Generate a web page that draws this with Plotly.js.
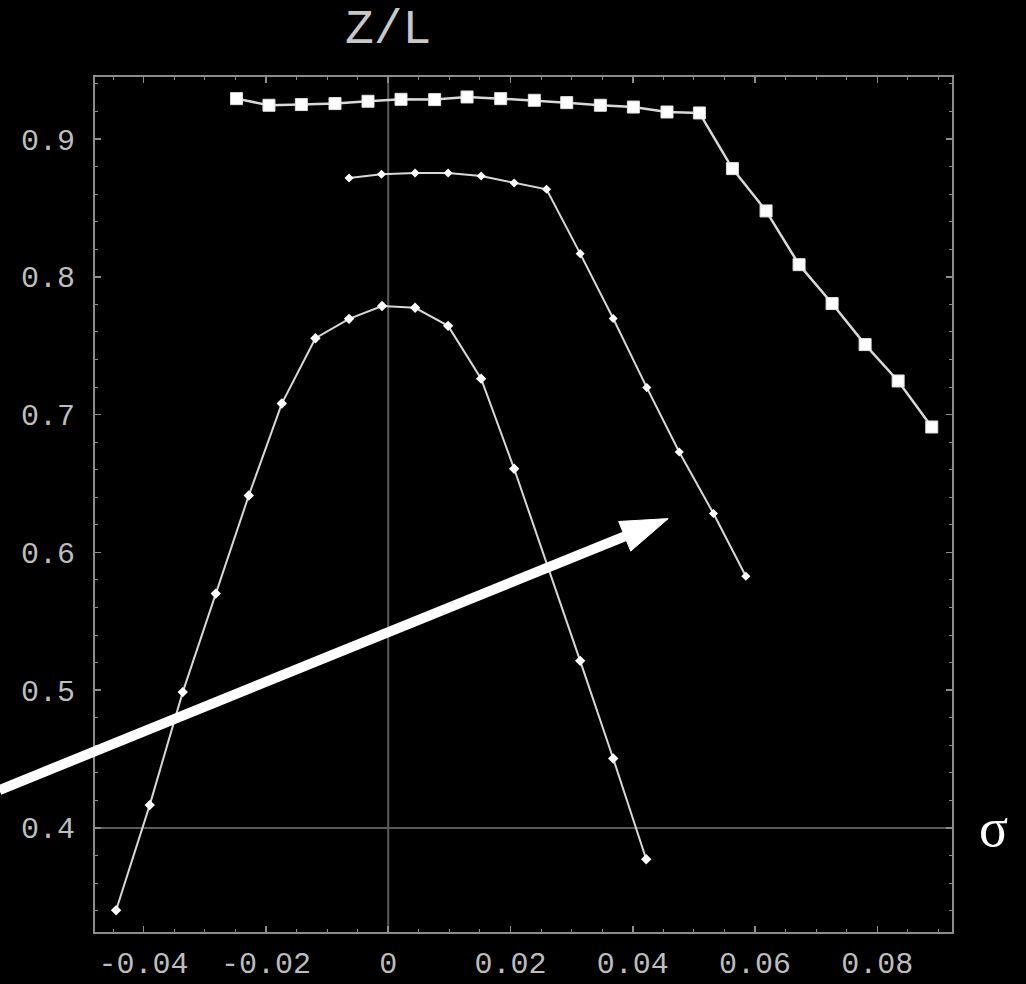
<!DOCTYPE html>
<html>
<head>
<meta charset="utf-8">
<script src="https://cdn.plot.ly/plotly-3.0.1.min.js"></script>
<style>html,body{margin:0;padding:0;background:#000;}</style>
</head>
<body>
<div id="chart" style="width:1026px;height:984px;"></div>
<script>
// ---- data ----
const squaresX = [-0.0248,-0.0195,-0.0142,-0.0087,-0.0033,0.0021,0.0076,0.0129,0.0184,0.0239,0.0292,0.0347,0.0401,0.0456,0.0509,0.0563,0.0618,0.0672,0.0726,0.0780,0.0834,0.0889];
const squaresY = [0.9293,0.9245,0.9250,0.9257,0.9274,0.9288,0.9286,0.9305,0.9293,0.9281,0.9264,0.9245,0.9232,0.9196,0.9189,0.8785,0.8478,0.8088,0.7806,0.7508,0.7244,0.6910];

const middleX = [-0.0064,-0.0011,0.0044,0.0098,0.0152,0.0206,0.0259,0.0314,0.0368,0.0423,0.0476,0.0532,0.0585];
const middleY = [0.8717,0.8744,0.8753,0.8753,0.8731,0.8681,0.8635,0.8168,0.7697,0.7196,0.6729,0.6282,0.5827];

const innerX = [-0.0445,-0.0390,-0.0336,-0.0282,-0.0228,-0.0174,-0.0119,-0.0064,-0.0010,0.0044,0.0098,0.0152,0.0206,0.0314,0.0368,0.0422];
const innerY = [0.3403,0.4166,0.4986,0.5701,0.6413,0.7080,0.7554,0.7695,0.7788,0.7775,0.7644,0.7261,0.6607,0.5213,0.4504,0.3773];

const xTickVals = [-0.04,-0.02,0,0.02,0.04,0.06,0.08];
const xTickText = ["-0.04","-0.02","0","0.02","0.04","0.06","0.08"];
const yTickVals = [0.4,0.5,0.6,0.7,0.8,0.9];
const yTickText = ["0.4","0.5","0.6","0.7","0.8","0.9"];

const axisCross = [0, 0.4];           // x = 0 vertical, y = 0.4 horizontal
const axisLabels = ["Z/L", "σ"];
const arrowTail = [-0.0636, 0.4275];  // data coords
const arrowTip  = [0.0458, 0.6245];

// ---- layout constants ----
const W = 1026, H = 984;
const M = {l:95, r:74, t:77, b:52};
const xRange = [-0.04795, 0.09221];
const yRange = [0.3245, 0.945];
const pw = W - M.l - M.r, ph = H - M.t - M.b;

function toPx(x, y) {
  return [M.l + (x - xRange[0])/(xRange[1]-xRange[0])*pw,
          M.t + (yRange[1] - y)/(yRange[1]-yRange[0])*ph];
}
function toPaper(p) { return [(p[0]-M.l)/pw, (H - M.b - p[1])/ph]; }

// arrow geometry (pixel space -> paper space)
const T = toPx(arrowTail[0], arrowTail[1]);
const P = toPx(arrowTip[0], arrowTip[1]);
const dx = P[0]-T[0], dy = P[1]-T[1], len = Math.hypot(dx, dy);
const ux = dx/len, uy = dy/len, nx = -uy, ny = ux;
const headLen = 47, headHalf = 16;
const B = [P[0]-headLen*ux, P[1]-headLen*uy];
const Bin = [B[0]+4*ux, B[1]+4*uy];
const c1 = [B[0]+headHalf*nx, B[1]+headHalf*ny];
const c2 = [B[0]-headHalf*nx, B[1]-headHalf*ny];
const pT = toPaper(T), pB = toPaper(Bin), pP = toPaper(P), pc1 = toPaper(c1), pc2 = toPaper(c2);

const lineColor = '#d8d8d8';
const traces = [
  {x: innerX, y: innerY, type:'scatter', mode:'lines+markers',
   line:{color:lineColor, width:2},
   marker:{symbol:'diamond', size:8, color:'#ffffff'}},
  {x: middleX, y: middleY, type:'scatter', mode:'lines+markers',
   line:{color:lineColor, width:2},
   marker:{symbol:'diamond', size:7, color:'#ffffff'}},
  {x: squaresX, y: squaresY, type:'scatter', mode:'lines+markers',
   line:{color:lineColor, width:2.5},
   marker:{symbol:'square', size:12, color:'#ffffff', line:{color:'#e0e0e0', width:1}}}
];

const tickFont = {family:'"Liberation Mono", "DejaVu Sans Mono", monospace', size:30, color:'#bdbdbd'};
const frameColor = '#8c8c8c';

const layout = {
  width: W, height: H,
  margin: M,
  paper_bgcolor:'#000', plot_bgcolor:'#000',
  showlegend:false,
  xaxis:{range:xRange, showgrid:false, zeroline:false,
    showline:true, linecolor:frameColor, linewidth:2, mirror:'allticks',
    ticks:'inside', ticklen:6, tickwidth:1.5, tickcolor:frameColor,
    tickvals:xTickVals, ticktext:xTickText, tickfont:tickFont, ticklabelstandoff:3,
    minor:{dtick:0.005, tick0:0, ticks:'inside', ticklen:3, tickcolor:frameColor, tickwidth:1}},
  yaxis:{range:yRange, showgrid:false, zeroline:false,
    showline:true, linecolor:frameColor, linewidth:2, mirror:'allticks',
    ticks:'inside', ticklen:6, tickwidth:1.5, tickcolor:frameColor,
    tickvals:yTickVals, ticktext:yTickText, tickfont:tickFont, ticklabelstandoff:12,
    minor:{dtick:0.02, tick0:0, ticks:'inside', ticklen:3, tickcolor:frameColor, tickwidth:1}},
  shapes:[
    {type:'line', xref:'x', yref:'paper', x0:axisCross[0], x1:axisCross[0], y0:0, y1:1,
     line:{color:'#5a5a5a', width:2}, layer:'below'},
    {type:'line', xref:'paper', yref:'y', x0:0, x1:1, y0:axisCross[1], y1:axisCross[1],
     line:{color:'#5a5a5a', width:2}, layer:'below'},
    {type:'line', xref:'paper', yref:'paper', x0:pT[0], y0:pT[1], x1:pB[0], y1:pB[1],
     line:{color:'#ffffff', width:10}, layer:'above'},
    {type:'path', xref:'paper', yref:'paper',
     path:`M${pP[0]},${pP[1]} L${pc1[0]},${pc1[1]} L${pc2[0]},${pc2[1]} Z`,
     fillcolor:'#ffffff', line:{color:'#ffffff', width:1}, layer:'above'}
  ],
  annotations:[
    {text:axisLabels[0], xref:'x', x:axisCross[0], yref:'paper', y:toPaper([0,30])[1],
     xanchor:'center', yanchor:'middle', showarrow:false,
     font:{family:'"Liberation Mono", monospace', size:48, color:'#c8c8c8'}},
    {text:axisLabels[1], xref:'paper', x:toPaper([993,0])[0], yref:'y', y:axisCross[1],
     xanchor:'center', yanchor:'middle', showarrow:false,
     font:{family:'"Liberation Serif", "DejaVu Serif", serif', size:54, color:'#ffffff'}}
  ]
};

Plotly.newPlot('chart', traces, layout, {displayModeBar:false, staticPlot:true});
</script>
</body>
</html>
